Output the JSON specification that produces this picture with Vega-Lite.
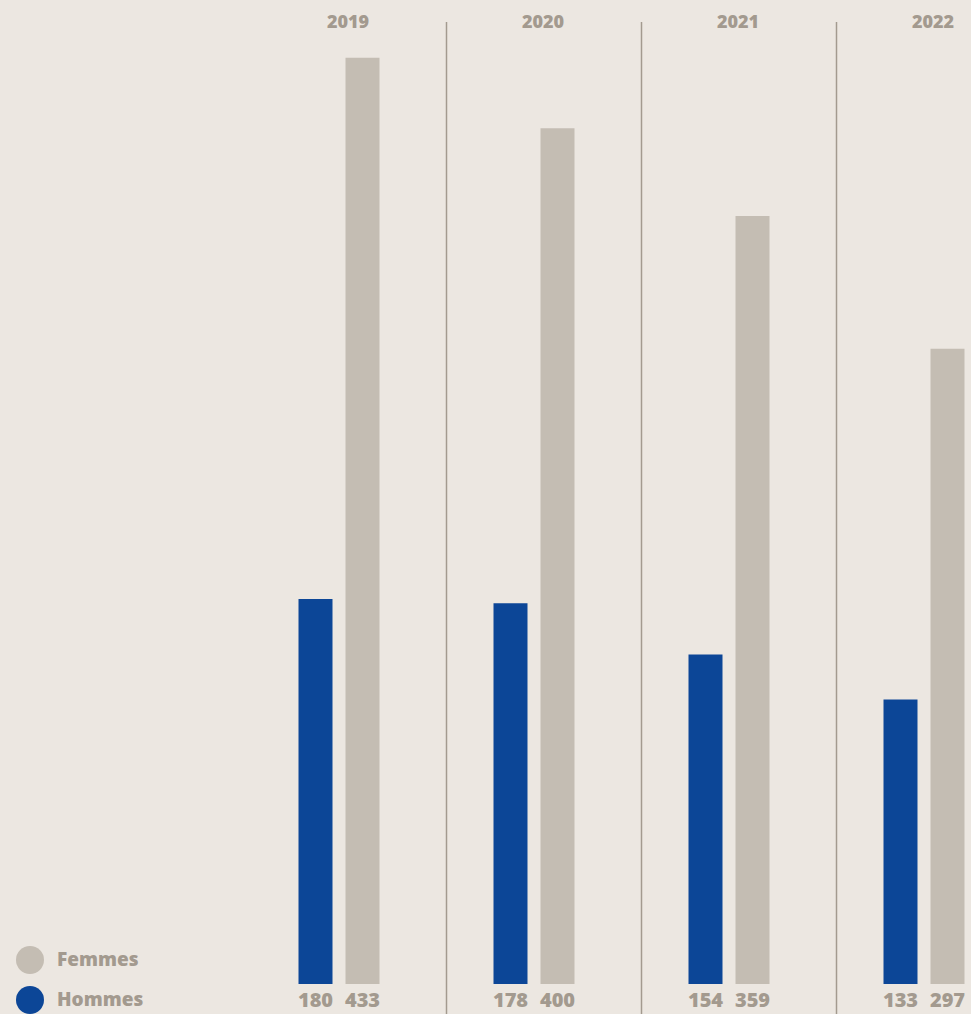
{
  "$schema": "https://vega.github.io/schema/vega-lite/v6.json",
  "width": 971,
  "height": 1014,
  "autosize": {"type": "none"},
  "padding": 0,
  "background": "#ECE7E1",
  "config": {
    "view": {"stroke": null},
    "font": "Open Sans"
  },
  "data": {
    "values": [
      {"year": "2019", "gender": "Hommes", "value": 180},
      {"year": "2019", "gender": "Femmes", "value": 433},
      {"year": "2020", "gender": "Hommes", "value": 178},
      {"year": "2020", "gender": "Femmes", "value": 400},
      {"year": "2021", "gender": "Hommes", "value": 154},
      {"year": "2021", "gender": "Femmes", "value": 359},
      {"year": "2022", "gender": "Hommes", "value": 133},
      {"year": "2022", "gender": "Femmes", "value": 297}
    ]
  },
  "encoding": {
    "x": {
      "field": "year",
      "type": "nominal",
      "axis": null,
      "scale": {"range": [241.5, 1021.5], "paddingInner": 0, "paddingOuter": 0}
    }
  },
  "resolve": {"scale": {"xOffset": "shared"}},
  "layer": [
    {
      "transform": [
        {"filter": "datum.gender == 'Hommes' && datum.year != '2019'"}
      ],
      "mark": {"type": "rule", "color": "#A39A8F", "strokeWidth": 1.5, "xOffset": 10},
      "encoding": {
        "x": {"field": "year", "type": "nominal", "bandPosition": 0},
        "y": {"datum": 449.7, "type": "quantitative", "scale": {"domain": [-14, 460], "nice": false, "zero": false}, "axis": null},
        "y2": {"datum": -14}
      }
    },
    {
      "mark": {"type": "bar"},
      "encoding": {
        "xOffset": {
          "field": "gender",
          "type": "nominal",
          "scale": {"domain": ["Hommes", "Femmes"], "range": [57, 138], "paddingInner": 0.2766, "paddingOuter": 0}
        },
        "y": {"field": "value", "type": "quantitative", "scale": {"domain": [-14, 460], "nice": false, "zero": false}, "axis": null},
        "y2": {"datum": 0},
        "color": {
          "field": "gender",
          "type": "nominal",
          "scale": {"domain": ["Femmes", "Hommes"], "range": ["#C4BDB3", "#0C4697"]},
          "legend": {
            "title": null,
            "orient": "none",
            "legendX": 16,
            "legendY": 946,
            "direction": "vertical",
            "padding": 0,
            "symbolType": "circle",
            "symbolSize": 784,
            "symbolStrokeWidth": 0,
            "symbolOpacity": 1,
            "rowPadding": 12,
            "labelOffset": 13,
            "labelFont": "Open Sans",
            "labelFontSize": 19,
            "labelFontWeight": 800,
            "labelColor": "#A39A8F"
          }
        }
      }
    },
    {
      "mark": {"type": "text", "font": "Open Sans", "fontSize": 20, "fontWeight": 800, "color": "#A39A8F", "baseline": "middle", "dy": 17},
      "encoding": {
        "xOffset": {"field": "gender", "type": "nominal"},
        "y": {"datum": 0, "type": "quantitative"},
        "text": {"field": "value", "type": "quantitative"}
      }
    },
    {
      "transform": [{"filter": "datum.gender == 'Hommes'"}],
      "mark": {"type": "text", "font": "Open Sans", "fontSize": 18, "fontWeight": 800, "color": "#A39A8F", "baseline": "middle", "dy": 23, "dx": 9},
      "encoding": {
        "y": {"datum": 460, "type": "quantitative"},
        "text": {"field": "year", "type": "nominal"}
      }
    }
  ]
}
